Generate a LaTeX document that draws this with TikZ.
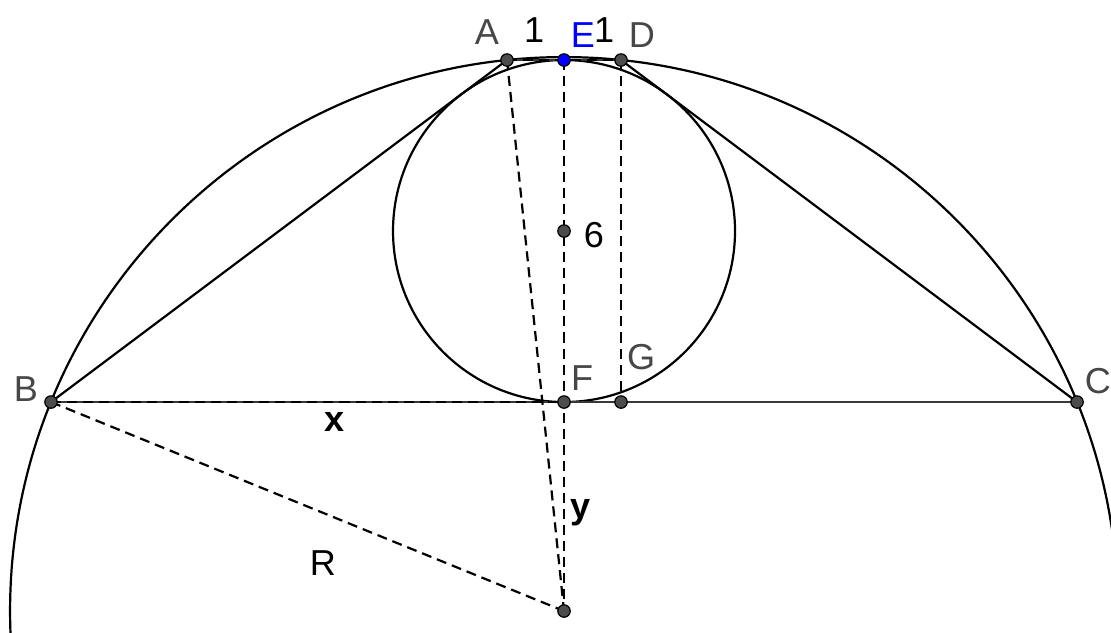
\documentclass[tikz,border=0pt]{standalone}
\usepackage{fontspec}
\setmainfont{Liberation Sans}
\begin{document}
\begin{tikzpicture}[
  solidln/.style={line width=1.1pt, black},
  dsh/.style={line width=1.1pt, black, dash pattern=on 5pt off 3pt},
  pt/.style={circle, fill=black!70, draw=black, line width=0.6pt, inner sep=0pt, minimum size=6.2pt},
  lbl/.style={font=\fontsize{18}{20}\selectfont, text=black!72, inner sep=0pt},
  num/.style={font=\fontsize{18}{20}\selectfont, text=black, inner sep=0pt},
]
\clip (-9.895,-4.035) rectangle (9.596,7.053);
\fill[white] (-9.895,-4.035) rectangle (9.596,7.053);
% points
\coordinate (A) at (-1,6);
\coordinate (E) at (0,6);
\coordinate (D) at (1,6);
\coordinate (B) at (-9,0);
\coordinate (F) at (0,0);
\coordinate (G) at (1,0);
\coordinate (C) at (9,0);
\coordinate (I) at (0,3);
\coordinate (O) at (0,-3.66667);
% circles
\draw[solidln] (O) circle (9.71825);
\draw[solidln] (I) circle (3);
% trapezoid
\draw[solidln] (B) -- (A);
\draw[solidln] (D) -- (C);
\draw[solidln, black!78] (B) -- (C);
\draw[solidln, black!78] (A) -- (D);
% dashed
\draw[dsh] (B) -- (F);
\draw[dsh] (A) -- (D);
\draw[dsh] (A) -- (O);
\draw[dsh] (E) -- (O);
\draw[dsh] (D) -- (G);
\draw[dsh] (B) -- (O);
% dots
\node[pt] (dA) at (A) {};
\node[pt, fill=blue] (dE) at (E) {};
\node[pt] (dD) at (D) {};
\node[pt] (dB) at (B) {};
\node[pt] (dF) at (F) {};
\node[pt] (dG) at (G) {};
\node[pt] (dC) at (C) {};
\node[pt] (dI) at (I) {};
\node[pt] (dO) at (O) {};
% labels
\node[lbl] (lA) at (-1.351,6.491) {A};
\node[num] (l1a) at (-0.526,6.526) {1};
\node[lbl, text=blue] (lE) at (0.333,6.439) {E};
\node[num] (l1b) at (0.702,6.526) {1};
\node[lbl] (lD) at (1.368,6.439) {D};
\node[lbl] (lB) at (-9.439,0.228) {B};
\node[lbl] (lF) at (0.316,0.421) {F};
\node[lbl] (lG) at (1.351,0.789) {G};
\node[lbl] (lC) at (9.368,0.368) {C};
\node[num] (l6) at (0.526,2.930) {6};
\node[num] (lx) at (-4.018,-0.351) {\textbf{x}};
\node[num] (ly) at (0.298,-1.947) {\textbf{y}};
\node[num] (lR) at (-4.228,-2.825) {R};
\end{tikzpicture}
\end{document}
